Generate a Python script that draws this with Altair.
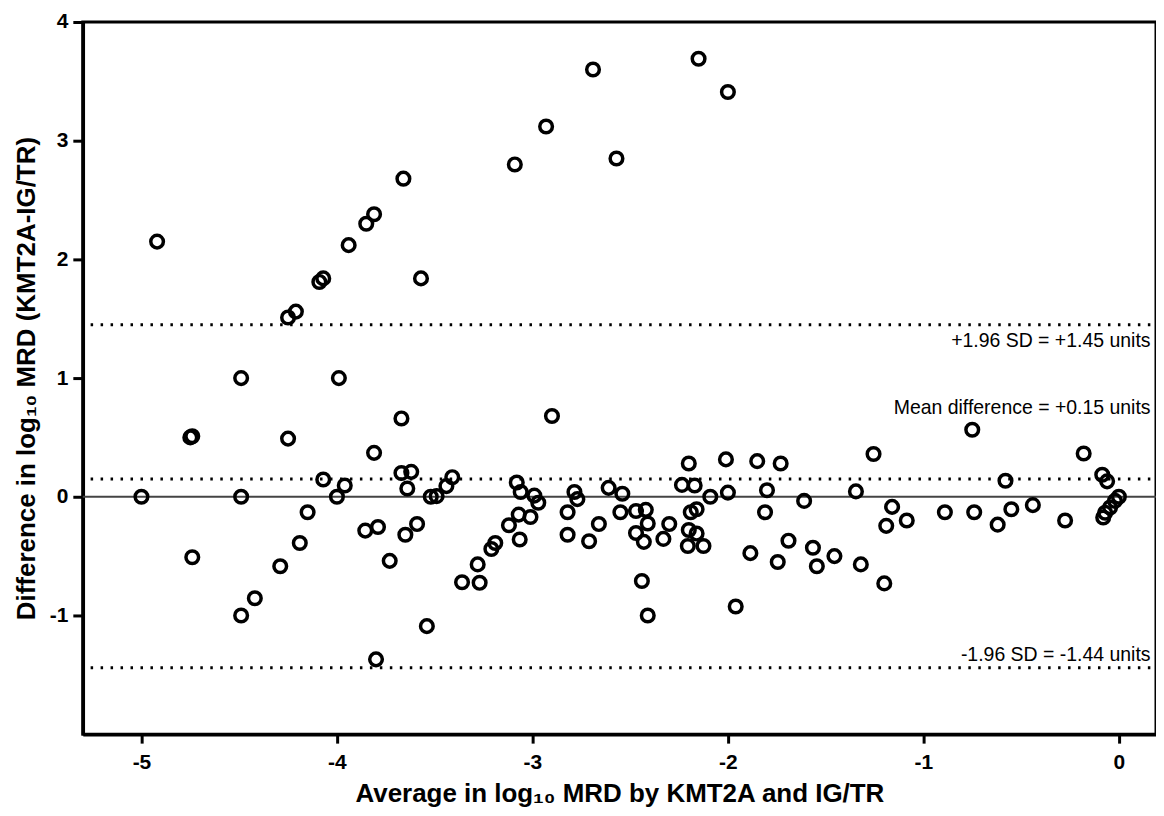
import altair as alt
import pandas as pd

# Bland-Altman data
avg = [-4.92, -3.66, -3.81, -3.85, -3.94, -4.09, -4.07, -3.57, -2.69, -2.15,
       -2.00, -2.93, -3.09, -2.57, -4.21, -4.25, -4.49, -3.99, -4.75, -4.74,
       -4.25, -3.67, -3.81, -4.07, -3.96, -4.00, -3.67, -3.62, -3.64, -3.52,
       -3.49, -3.44, -3.41, -5.00, -4.49, -4.15, -4.74, -4.49, -4.42, -4.29,
       -4.19, -3.855, -3.79, -3.73, -3.65, -3.59, -3.54, -3.80, -3.36, -3.27,
       -3.28, -3.21, -3.19, -3.12, -3.07, -3.01, -3.065, -2.90, -3.08, -3.06,
       -2.99, -2.97, -2.82, -2.785, -2.77, -2.82, -2.61, -2.54, -2.55, -2.47,
       -2.42, -2.66, -2.71, -2.30, -2.47, -2.41, -2.43, -2.33, -2.20, -2.235,
       -2.17, -2.19, -2.16, -2.20, -2.16, -2.205, -2.125, -2.44, -2.41, -2.09,
       -2.01, -2.00, -1.96, -1.885, -1.85, -1.80, -1.81, -1.73, -1.745, -1.69,
       -1.61, -1.565, -1.545, -1.455, -1.32, -1.20, -1.345, -1.255, -1.16, -1.19,
       -1.085, -0.89, -0.75, -0.74, -0.62, -0.58, -0.55, -0.44, -0.275, -0.18,
       -0.085, -0.06, 0.00, -0.02, -0.045, -0.07, -0.08]
diff = [2.15, 2.68, 2.38, 2.30, 2.12, 1.81, 1.84, 1.84, 3.60, 3.69,
        3.41, 3.12, 2.80, 2.85, 1.56, 1.51, 1.00, 1.00, 0.50, 0.51,
        0.49, 0.66, 0.37, 0.145, 0.095, 0.00, 0.20, 0.21, 0.07, 0.00,
        0.005, 0.09, 0.165, 0.00, 0.00, -0.13, -0.51, -1.00, -0.855, -0.585,
        -0.39, -0.285, -0.255, -0.54, -0.32, -0.23, -1.09, -1.37, -0.72, -0.725,
        -0.57, -0.44, -0.39, -0.24, -0.15, -0.17, -0.36, 0.68, 0.12, 0.04,
        0.01, -0.05, -0.13, 0.04, -0.02, -0.32, 0.075, 0.025, -0.13, -0.12,
        -0.11, -0.23, -0.375, -0.23, -0.305, -0.225, -0.38, -0.355, 0.28, 0.10,
        0.095, -0.13, -0.105, -0.28, -0.31, -0.415, -0.415, -0.71, -1.00, 0.00,
        0.315, 0.035, -0.925, -0.475, 0.30, 0.055, -0.13, 0.28, -0.55, -0.37,
        -0.035, -0.43, -0.585, -0.50, -0.57, -0.73, 0.045, 0.36, -0.085, -0.245,
        -0.20, -0.13, 0.565, -0.13, -0.235, 0.135, -0.105, -0.07, -0.20, 0.365,
        0.185, 0.13, 0.00, -0.035, -0.09, -0.135, -0.175]

# Reference lines (limits of agreement and mean difference)
ref_levels = [1.45, 0.15, -1.44]
ref_labels = ["+1.96 SD = +1.45 units", "Mean difference = +0.15 units",
              "-1.96 SD = -1.44 units"]
label_y = [1.31, 0.75, -1.335]

x_ticks = [-5, -4, -3, -2, -1, 0]
y_ticks = [-1, 0, 1, 2, 3, 4]
x_domain = [-5.3, 0.19]
y_domain = [-2, 4]

points = pd.DataFrame({"avg": avg, "diff": diff})
refs = pd.DataFrame({"y": ref_levels, "x1": [-5.26] * 3, "x2": [x_domain[1]] * 3})
zero = pd.DataFrame({"y": [0.0], "x1": [x_domain[0]], "x2": [x_domain[1]]})
labels = pd.DataFrame({"y": label_y, "x": [0.162] * 3, "text": ref_labels})

FONT = "Liberation Sans"
xs = alt.Scale(domain=x_domain, nice=False, zero=False)
ys = alt.Scale(domain=y_domain, nice=False, zero=False)

x_axis = alt.Axis(values=x_ticks, labelExpr="'' + datum.value", grid=False,
                  title="Average in log\u2081\u2080 MRD by KMT2A and IG/TR",
                  labelFontSize=21, labelFontWeight="bold", labelFont=FONT,
                  titleFontSize=26, titleFontWeight="bold", titleFont=FONT,
                  labelPadding=8, titlePadding=9, tickSize=9, tickWidth=3,
                  domainWidth=3.5, domainColor="black", tickColor="black",
                  labelColor="black", titleColor="black")
y_axis = alt.Axis(values=y_ticks, labelExpr="'' + datum.value", grid=False,
                  title="Difference in log\u2081\u2080 MRD (KMT2A-IG/TR)",
                  labelFontSize=21, labelFontWeight="bold", labelFont=FONT,
                  titleFontSize=26, titleFontWeight="bold", titleFont=FONT,
                  labelPadding=5, titlePadding=10, tickSize=10, tickWidth=3,
                  domainWidth=3.5, domainColor="black", tickColor="black",
                  labelColor="black", titleColor="black")

zero_line = alt.Chart(zero).mark_rule(color="#444444", strokeWidth=2).encode(
    x=alt.X("x1:Q", scale=xs, axis=x_axis), x2="x2:Q",
    y=alt.Y("y:Q", scale=ys, axis=y_axis))

dotted = alt.Chart(refs).mark_rule(color="black", strokeWidth=3,
                                   strokeDash=[2.5, 7.5]).encode(
    x=alt.X("x1:Q", scale=xs), x2="x2:Q", y=alt.Y("y:Q", scale=ys))

texts = alt.Chart(labels).mark_text(align="right", baseline="middle",
                                    fontSize=19.5, font=FONT, color="black").encode(
    x=alt.X("x:Q", scale=xs), y=alt.Y("y:Q", scale=ys), text="text:N")

dots = alt.Chart(points).mark_point(shape="circle", filled=False, stroke="black",
                                    strokeWidth=3.5, size=160, opacity=1).encode(
    x=alt.X("avg:Q", scale=xs), y=alt.Y("diff:Q", scale=ys))

chart = alt.layer(zero_line, dotted, texts, dots).properties(
    width=1076, height=714,
    autosize=alt.AutoSizeParams(type="none"),
    padding={"left": 75, "top": 13, "right": 0, "bottom": 73},
    background="white",
).configure_view(stroke="black", strokeWidth=3)

chart.save("out.html", embed_options={"renderer": "svg", "actions": False})
